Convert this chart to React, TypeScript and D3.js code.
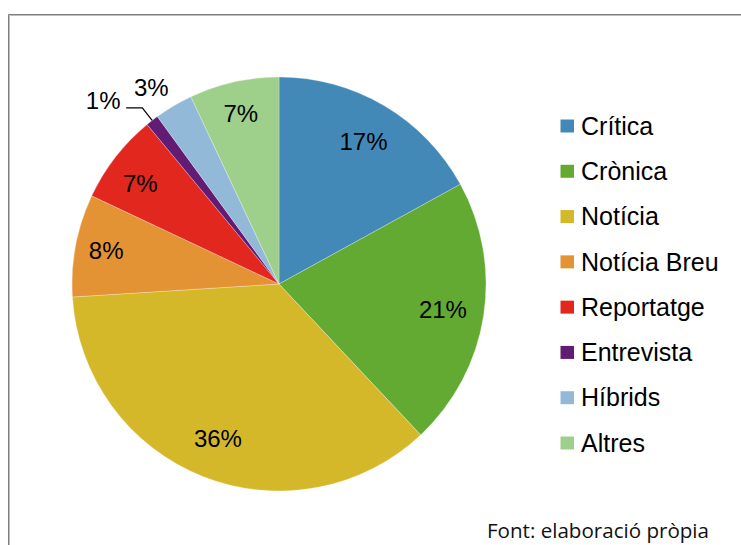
import * as d3 from "d3";
import { useEffect, useRef } from "react";

const categories = [
  "Crítica",
  "Crònica",
  "Notícia",
  "Notícia Breu",
  "Reportatge",
  "Entrevista",
  "Híbrids",
  "Altres",
];
const values = [17, 21, 36, 8, 7, 1, 3, 7];
const colors = [
  "#4389B8",
  "#62AA32",
  "#D5B82A",
  "#E39333",
  "#E2271E",
  "#621C74",
  "#93B9D9",
  "#9FD08B",
];
const sourceNote = "Font: elaboració pròpia";

const W = 741;
const H = 545;

export default function App() {
  const svgRef = useRef<SVGSVGElement>(null);

  useEffect(() => {
    document.body.style.margin = "0";
    if (!svgRef.current) return;
    const svg = d3.select(svgRef.current);
    svg.selectAll("*").remove();

    // frame (only left and top edges visible in the crop)
    svg
      .append("path")
      .attr("d", `M8.5,${H + 5}V14.5H${W + 5}`)
      .attr("fill", "none")
      .attr("stroke", "#7f7f7f")
      .attr("stroke-width", 1);
    svg
      .append("path")
      .attr("d", `M9.5,${H + 5}V15.5H${W + 5}`)
      .attr("fill", "none")
      .attr("stroke", "#bdbdbd")
      .attr("stroke-width", 1);

    const cx = 279;
    const cy = 284;
    const r = 207;

    const pie = d3
      .pie<number>()
      .sort(null)
      .value((d) => d)
      .startAngle(0)
      .endAngle(2 * Math.PI);
    const arcs = pie(values);
    const arc = d3.arc<d3.PieArcDatum<number>>().innerRadius(0).outerRadius(r);

    const g = svg.append("g").attr("transform", `translate(${cx},${cy})`);

    g.selectAll("path.slice")
      .data(arcs)
      .enter()
      .append("path")
      .attr("class", "slice")
      .attr("d", arc)
      .attr("fill", (_, i) => colors[i])
      .attr("stroke", "rgba(255,255,255,0.45)")
      .attr("stroke-width", 0.6);

    // label placement: radius and small angle nudge (degrees)
    const place = [
      { r: 166, da: 0 },
      { r: 166, da: 0 },
      { r: 166, da: 0 },
      { r: 176, da: 0 },
      { r: 171, da: -2 },
      { r: 254, da: -6 },
      { r: 234, da: -2.5 },
      { r: 175, da: 0 },
    ];
    const polar = (a: number, rad: number): [number, number] => [
      rad * Math.sin(a),
      -rad * Math.cos(a),
    ];

    arcs.forEach((d, i) => {
      const mid = (d.startAngle + d.endAngle) / 2;
      const p = place[i];
      const [x, y] = polar(mid + (p.da * Math.PI) / 180, p.r);
      g.append("text")
        .attr("x", x)
        .attr("y", y)
        .attr("dy", "0.35em")
        .attr("text-anchor", "middle")
        .attr("font-family", "'Liberation Sans', Arial, sans-serif")
        .attr("font-size", 24)
        .attr("fill", "#000")
        .text(`${values[i]}%`);

      if (i === 5) {
        const [ex, ey] = polar(mid, r);
        const [bx, by] = polar(mid, 223);
        g.append("path")
          .attr("d", `M${ex},${ey}L${bx},${by}H${x + 23}`)
          .attr("fill", "none")
          .attr("stroke", "#000")
          .attr("stroke-width", 1.2);
      }
    });

    // legend
    const legendY = d3
      .scalePoint<string>()
      .domain(categories)
      .range([126, 443]);
    const lg = svg.append("g");
    categories.forEach((c, i) => {
      const y = legendY(c) ?? 0;
      lg.append("rect")
        .attr("x", 560.5)
        .attr("y", y - 6.5)
        .attr("width", 13.5)
        .attr("height", 13)
        .attr("fill", colors[i]);
      lg.append("text")
        .attr("x", 581)
        .attr("y", y)
        .attr("dy", "0.35em")
        .attr("font-family", "'Liberation Sans', Arial, sans-serif")
        .attr("font-size", 25)
        .attr("fill", "#000")
        .text(c);
    });

    svg
      .append("text")
      .attr("x", 487)
      .attr("y", 538)
      .attr("font-family", "'Open Sans', 'Noto Sans', sans-serif")
      .attr("font-size", 20)
      .attr("textLength", 222)
      .attr("lengthAdjust", "spacingAndGlyphs")
      .attr("fill", "#111")
      .text(sourceNote);
  }, []);

  return (
    <svg
      ref={svgRef}
      width={W}
      height={H}
      style={{ display: "block", background: "#fff" }}
    />
  );
}
